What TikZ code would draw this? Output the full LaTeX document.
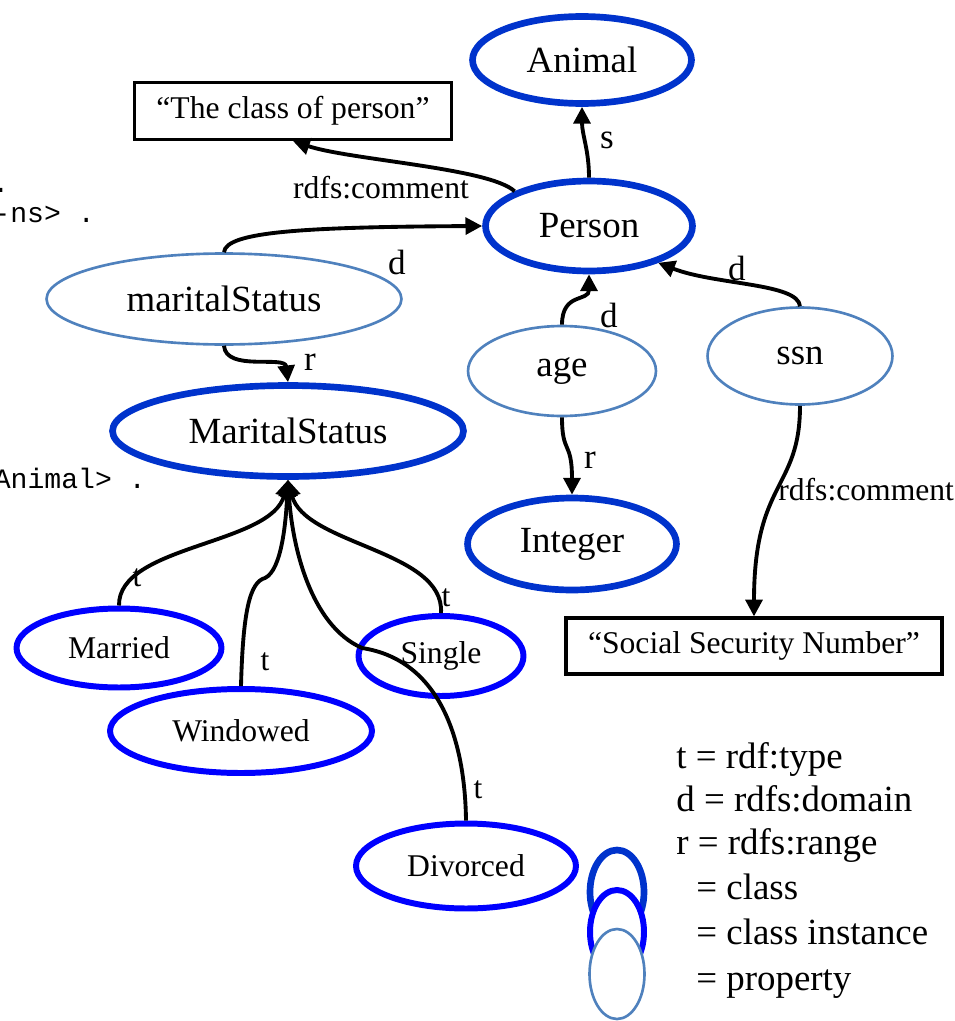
\documentclass[tikz,border=0pt]{standalone}
\usepackage{fontspec}
\setmainfont{Liberation Serif}
\newfontfamily\codefont{Liberation Mono}
\usetikzlibrary{shapes.geometric,arrows.meta}

\definecolor{clsblue}{HTML}{0033CC}
\definecolor{instblue}{HTML}{0000FF}
\definecolor{propblue}{HTML}{4F81BD}

\begin{document}
\begin{tikzpicture}[x=0.02cm, y=-0.02cm,
        cls/.style = {ellipse, draw=clsblue, line width=3.8pt, inner sep=0pt, fill=white, font=\fontsize{21}{25}\selectfont},
        inst/.style = {ellipse, draw=instblue, line width=3.4pt, inner sep=0pt, fill=white, font=\fontsize{18}{22}\selectfont},
        prop/.style = {ellipse, draw=propblue, line width=1.5pt, inner sep=0pt, fill=white, font=\fontsize{21}{25}\selectfont},
        lit/.style = {rectangle, draw, line width=1.8pt, inner sep=0pt, font=\fontsize{18}{22}\selectfont},
        rel/.style = {line width=2.2pt, -{Triangle[length=9.5pt, width=9.5pt]}},
        lbl/.style = {inner sep=0pt, font=\fontsize{20}{24}\selectfont},
        tlbl/.style = {inner sep=0pt, font=\fontsize{18}{22}\selectfont},
        code/.style = {inner sep=0pt, font=\codefont\fontsize{16}{19}\selectfont},
        key/.style = {inner sep=0pt, anchor=base west, font=\fontsize{21}{25}\selectfont}]
        \useasboundingbox (0,0) rectangle (954,1021);

        % leftover code lines
        \node[code, anchor=base east] (codeA) at (9.5,192) {.};
        \node[code, anchor=base east] (codeB) at (95,222) {-ns> .};
        \node[code, anchor=base east] (codeC) at (146,488) {Animal> .};

        % classes
        \node[cls, minimum width=4.38cm, minimum height=1.74cm] (animal) at (582,60) {Animal};
        \node[cls, minimum width=4.14cm, minimum height=1.8cm] (person) at (589,226) {Person};
        \node[cls, minimum width=7.02cm, minimum height=1.82cm] (maritalCls) at (288,431) {MaritalStatus};
        \node[cls, minimum width=4.18cm, minimum height=1.84cm] (integer) at (572,544) {Integer};

        % properties
        \node[prop, minimum width=7.1cm, minimum height=1.82cm] (maritalProp) at (224,299) {maritalStatus};
        \node[prop, minimum width=3.76cm, minimum height=1.8cm] (age) at (562,371) {age};
        \node[prop, minimum width=3.7cm, minimum height=1.94cm] (ssn) at (800,356) {ssn};

        % instances
        \node[inst, minimum width=4.1cm, minimum height=1.58cm] (married) at (119,648) {Married};
        \node[inst, minimum width=5.24cm, minimum height=1.68cm] (windowed) at (241,731) {Windowed};
        \node[inst, minimum width=3.3cm, minimum height=1.6cm] (single) at (441,656) {Single};
        \node[inst, minimum width=4.4cm, minimum height=1.7cm] (divorced) at (466,866) {Divorced};

        % literals
        \node[lit, minimum width=6.34cm, minimum height=1.14cm] (personComment) at (293,111) {“The class of person”};
        \node[lit, minimum width=7.52cm, minimum height=1.12cm] (ssnComment) at (754,646) {“Social Security Number”};

        % edges
        \draw[rel] (person.155) .. controls (490,168) and (350,160) .. (personComment.south);
        \draw[rel] (person.north) .. controls (589,150) and (582,135) .. (animal.south);
        \draw[rel] (maritalProp.north) .. controls (226,232) and (300,227) .. (person.west);
        \draw[rel] (maritalProp.south) .. controls (226,372) and (285,355) .. (maritalCls.north);
        \draw[rel] (age.north) .. controls (562,292) and (589,302) .. (person.south);
        \draw[rel] (ssn.north) .. controls (798,283) and (715,285) .. (person.-28);
        \draw[rel] (age.south) .. controls (562,455) and (572,440) .. (integer.north);
        \draw[rel] (ssn.south) .. controls (800,490) and (754,480) .. (ssnComment.north);
        \draw[rel] (married.north) .. controls (118,545) and (272,545) .. (maritalCls.south);
        \draw[rel] (windowed.north) .. controls (243,610) and (250,582) .. (265,578)
            .. controls (282,570) and (286,520) .. (maritalCls.south);
        \draw[rel] (single.north) .. controls (445,550) and (304,545) .. (maritalCls.south);
        \draw[rel] (divorced.north) .. controls (465,740) and (440,660) .. (362,648)
            .. controls (310,625) and (292,545) .. (maritalCls.south);

        % edge labels
        \node[tlbl] (commentLbl) at (381,188) {rdfs:comment};
        \node[tlbl, anchor=west] (ssnCommentLbl) at (778,490) {rdfs:comment};
        \node[lbl] (sLbl) at (607,140) {s};
        \node[lbl] (maritalDLbl) at (397,262) {d};
        \node[lbl] (maritalRLbl) at (310,362) {r};
        \node[lbl] (ageDLbl) at (609,315) {d};
        \node[lbl] (ssnDLbl) at (737,268) {d};
        \node[lbl] (ageRLbl) at (590,460) {r};
        \node[tlbl] (marriedLbl) at (137,578) {t};
        \node[tlbl] (windowedLbl) at (265,662) {t};
        \node[tlbl] (singleLbl) at (446,598) {t};
        \node[tlbl] (divorcedLbl) at (478,790) {t};

        % key
        \node[cls, minimum width=1.08cm, minimum height=1.68cm] (keyCls) at (617,892) {};
        \node[inst, minimum width=1.08cm, minimum height=1.68cm] (keyInst) at (617,932) {};
        \node[prop, minimum width=1.1cm, minimum height=1.8cm] (keyProp) at (617,974) {};
        \node[key] (keyT) at (676,768) {t = rdf:type};
        \node[key] (keyD) at (676,811) {d = rdfs:domain};
        \node[key] (keyR) at (676,854) {r = rdfs:range};
        \node[key] (keyClass) at (696,899) {= class};
        \node[key] (keyInstance) at (696,944) {= class instance};
        \node[key] (keyProperty) at (696,990) {= property};
    \end{tikzpicture}
\end{document}
